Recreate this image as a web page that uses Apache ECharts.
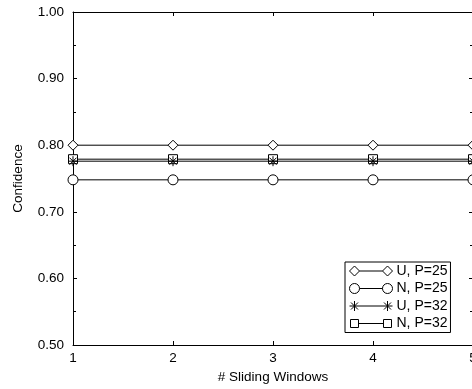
<!DOCTYPE html>
<html>
<head>
<meta charset="utf-8">
<script src="https://cdn.jsdelivr.net/npm/echarts@6/dist/echarts.min.js"></script>
<style>
html, body { margin: 0; padding: 0; background: #fff; }
#chart { width: 472px; height: 389px; }
</style>
</head>
<body>
<div id="chart"></div>
<script>
var windows = ['1', '2', '3', '4', '5'];
var yTicks = [0.5, 0.6, 0.7, 0.8, 0.9, 1.0];

var names = ['U, P=25', 'N, P=25', 'U, P=32', 'N, P=32'];
var u25 = [0.800, 0.800, 0.800, 0.800, 0.800];
var n25 = [0.748, 0.748, 0.748, 0.748, 0.748];
var u32 = [0.776, 0.776, 0.776, 0.776, 0.776];
var n32 = [0.779, 0.779, 0.779, 0.779, 0.779];

var FONT = 'Liberation Sans';

// marker shapes (series) and two-ended legend icons
var starSym = 'path://M5,0 L5,10 M0,5 L10,5 M1.5,1.5 L8.5,8.5 M1.5,8.5 L8.5,1.5';
var icons = [
	'path://M0,5 L5,0 L10,5 L5,10 Z M10,5 L33,5 M33,5 L38,0 L43,5 L38,10 Z',
	'path://M0,5 A5,5 0 1 1 10,5 A5,5 0 1 1 0,5 Z M10,5 L33,5 M33,5 A5,5 0 1 1 43,5 A5,5 0 1 1 33,5 Z',
	'path://M5,0 L5,10 M0,5 L43,5 M1.5,1.5 L8.5,8.5 M1.5,8.5 L8.5,1.5 M38,0 L38,10 M34.5,1.5 L41.5,8.5 M34.5,8.5 L41.5,1.5',
	'path://M1,1 L9,1 L9,9 L1,9 Z M9,5 L34,5 M34,1 L42,1 L42,9 L34,9 Z M0,0 L0,0 M43,10 L43,10'
];

function makeSeries(name, data, symbol, size, z) {
	return {
		name: name,
		type: 'line',
		z: z,
		data: data,
		symbol: symbol,
		symbolSize: size,
		showAllSymbol: true,
		clip: false,
		lineStyle: { color: '#000', width: 1 },
		itemStyle: { color: '#fff', borderColor: '#000', borderWidth: 1 },
		emphasis: { disabled: true },
		animation: false
	};
}

var chart = echarts.init(document.getElementById('chart'));

var option = {
	animation: false,
	textStyle: { fontFamily: FONT, color: '#000' },
	grid: { left: 73, top: 12, width: 400, height: 333, outerBoundsMode: 'none', containLabel: false },
	legend: {
		orient: 'vertical',
		left: 345,
		top: 262,
		padding: [2, 3, 2, 4],
		itemGap: 3.5,
		itemWidth: 43,
		itemHeight: 10,
		backgroundColor: '#fff',
		borderColor: '#000',
		borderWidth: 1,
		borderRadius: 0,
		itemStyle: { color: '#fff', borderColor: '#000', borderWidth: 1 },
		textStyle: { fontFamily: FONT, fontSize: 14, color: '#000', padding: [0, 0, 0, -1] },
		data: names.map(function (n, i) { return { name: n, icon: icons[i] }; })
	},
	xAxis: [{
		type: 'category',
		data: windows,
		boundaryGap: false,
		name: '# Sliding Windows',
		nameLocation: 'middle',
		nameGap: 25,
		nameTextStyle: { fontFamily: FONT, fontSize: 13.5, color: '#000' },
		axisLine: { lineStyle: { color: '#000', width: 1 } },
		axisTick: { inside: true, length: 4, lineStyle: { color: '#000' } },
		axisLabel: { fontFamily: FONT, fontSize: 13.5, color: '#000', margin: 6 },
		splitLine: { show: false }
	}, {
		type: 'category',
		data: windows,
		boundaryGap: false,
		position: 'top',
		axisLine: { lineStyle: { color: '#000', width: 1 } },
		axisTick: { inside: true, length: 4, lineStyle: { color: '#000' } },
		axisLabel: { show: false },
		splitLine: { show: false }
	}],
	yAxis: [{
		type: 'value',
		min: yTicks[0],
		max: yTicks[yTicks.length - 1],
		interval: 0.1,
		name: 'Confidence',
		nameLocation: 'middle',
		nameRotate: 90,
		nameGap: 48,
		nameTextStyle: { fontFamily: FONT, fontSize: 13.5, color: '#000' },
		axisLine: { show: true, lineStyle: { color: '#000', width: 1 } },
		axisTick: { show: true, inside: true, length: 4, lineStyle: { color: '#000' } },
		minorTick: { show: true, splitNumber: 2, length: 3, lineStyle: { color: '#000' } },
		axisLabel: {
			fontFamily: FONT, fontSize: 13.5, color: '#000', margin: 9,
			formatter: function (v) { return v.toFixed(2); }
		},
		splitLine: { show: false }
	}, {
		type: 'value',
		min: yTicks[0],
		max: yTicks[yTicks.length - 1],
		interval: 0.1,
		position: 'right',
		axisLine: { show: true, lineStyle: { color: '#000', width: 1 } },
		axisTick: { show: true, inside: true, length: 4, lineStyle: { color: '#000' } },
		minorTick: { show: true, splitNumber: 2, length: 3, lineStyle: { color: '#000' } },
		axisLabel: { show: false },
		splitLine: { show: false }
	}],
	series: [
		makeSeries(names[0], u25, 'diamond', 10, 2),
		makeSeries(names[1], n25, 'circle', 10, 2),
		makeSeries(names[2], u32, starSym, 10, 3),
		makeSeries(names[3], n32, 'rect', 9, 2)
	]
};

chart.setOption(option);
</script>
</body>
</html>
